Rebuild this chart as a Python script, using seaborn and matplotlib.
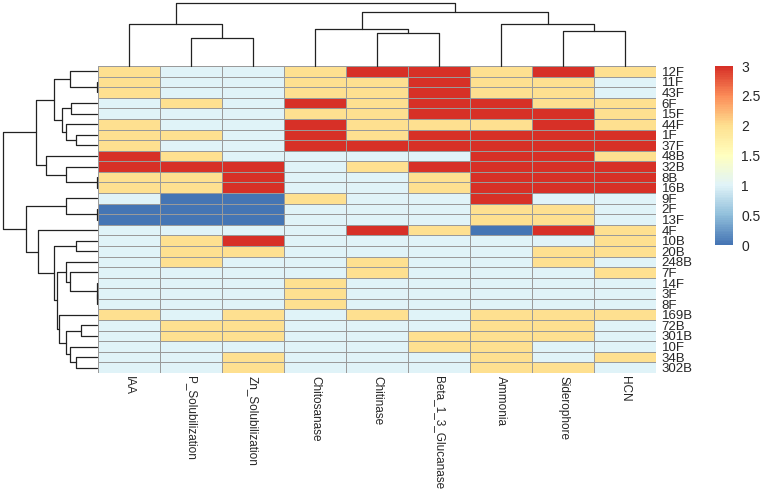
import pandas as pd
import matplotlib
matplotlib.use('Agg')
import matplotlib.pyplot as plt
from matplotlib.colors import LinearSegmentedColormap
import seaborn as sns

# Strains (row order as in the clustered heatmap)
strains = ['12F', '11F', '43F', '6F', '15F', '44F', '1F', '37F', '48B', '32B',
           '8B', '16B', '9F', '2F', '13F', '4F', '10B', '20B', '248B', '7F',
           '14F', '3F', '8F', '169B', '72B', '301B', '10F', '34B', '302B']

# Trait scores (0-3) for each strain
iaa = [2, 2, 2, 1, 1, 2, 2, 2, 3, 3, 2, 2, 1, 0, 0, 1, 1, 1, 1, 1, 1, 1, 1, 2, 1, 1, 1, 1, 1]
p_sol = [1, 1, 1, 2, 1, 1, 2, 1, 2, 3, 2, 2, 0, 0, 0, 1, 2, 2, 2, 1, 1, 1, 1, 1, 2, 2, 1, 1, 1]
zn_sol = [1, 1, 1, 1, 1, 1, 1, 1, 1, 3, 3, 3, 0, 0, 0, 1, 3, 2, 1, 1, 1, 1, 1, 2, 2, 2, 1, 2, 2]
chitosanase = [2, 2, 2, 3, 2, 3, 3, 3, 1, 1, 1, 1, 2, 1, 1, 1, 1, 1, 1, 1, 2, 2, 2, 1, 1, 1, 1, 1, 1]
chitinase = [3, 2, 2, 2, 2, 2, 2, 3, 1, 2, 1, 1, 1, 1, 1, 3, 1, 1, 2, 2, 1, 1, 1, 2, 1, 1, 1, 1, 1]
glucanase = [3, 3, 3, 3, 3, 2, 3, 3, 1, 3, 2, 2, 1, 1, 1, 2, 1, 1, 1, 1, 1, 1, 1, 1, 1, 2, 2, 1, 1]
ammonia = [2, 2, 2, 3, 3, 2, 3, 3, 3, 3, 3, 3, 3, 2, 2, 0, 1, 1, 1, 1, 1, 1, 1, 2, 2, 2, 2, 2, 2]
siderophore = [3, 2, 2, 2, 3, 3, 3, 3, 3, 3, 3, 3, 1, 2, 2, 3, 1, 2, 2, 1, 1, 1, 1, 2, 2, 2, 1, 1, 2]
hcn = [2, 1, 1, 2, 2, 2, 3, 3, 2, 3, 3, 3, 1, 1, 1, 2, 2, 2, 1, 2, 1, 1, 1, 2, 1, 1, 1, 2, 1]

traits = ['IAA', 'P_Solubilization', 'Zn_Solubilization', 'Chitosanase', 'Chitinase',
          'Beta_1_3_Glucanase', 'Ammonia', 'Siderophore', 'HCN']

# Dendrogram merges as [left, right, height] (heights)
col_tree = [['IAA', ['P_Solubilization', 'Zn_Solubilization', 28.7], 42.7],
            [['Chitosanase', ['Chitinase', 'Beta_1_3_Glucanase', 33.4], 37.7],
             ['Ammonia', ['Siderophore', 'HCN', 35.0], 42.7], 55.0], 63.4]

row_tree = [
    [[['12F', ['11F', '43F', 0], 26.7],
      [['6F', '15F', 26.0], ['44F', ['1F', '37F', 21.3], 30.7], 34.7], 43.3],
     ['48B', ['32B', ['8B', '16B', 0], 30.7], 50.7], 61.3],
    [['9F', ['2F', '13F', 0], 30.7],
     ['4F', [['10B', '20B', 21.3],
             [['248B', ['7F', ['14F', ['3F', '8F', 0], 0], 26.7], 30.7],
              ['169B', [['72B', '301B', 15.7],
                        ['10F', ['34B', '302B', 21.3], 26.7], 30.7], 38.0], 40.5], 43.3], 59.0],
     71.3], 94.0]

df = pd.DataFrame({'IAA': iaa, 'P_Solubilization': p_sol, 'Zn_Solubilization': zn_sol,
                   'Chitosanase': chitosanase, 'Chitinase': chitinase,
                   'Beta_1_3_Glucanase': glucanase, 'Ammonia': ammonia,
                   'Siderophore': siderophore, 'HCN': hcn}, index=strains)[traits]

sns.set_style('white')
plt.rcParams['font.family'] = ['Liberation Sans', 'DejaVu Sans']

# pheatmap default palette (reversed RdYlBu)
cmap = LinearSegmentedColormap.from_list(
    'rdylbu', ['#4575B4', '#91BFDB', '#E0F3F8', '#FFFFBF', '#FEE090', '#FC8D59', '#D73027'], N=100)

W, H = 767, 494
fig = plt.figure(figsize=(W / 100, H / 100), dpi=100)
ax = fig.add_axes([98 / W, 1 - 373 / H, 558 / W, 307 / H])
cax = fig.add_axes([715 / W, 1 - 245 / H, 18 / W, 179 / H])
ax_top = fig.add_axes([98 / W, 1 - 66 / H, 558 / W, 66 / H])
ax_left = fig.add_axes([0, 1 - 373 / H, 97 / W, 307 / H])

sns.heatmap(df, ax=ax, cmap=cmap, vmin=0, vmax=3, linewidths=0.6, linecolor='#9a9a9a',
            cbar_ax=cax, cbar_kws={'ticks': [0, 0.5, 1, 1.5, 2, 2.5, 3]})

ax.yaxis.tick_right()
ax.set_yticks([i + 0.5 for i in range(len(strains))])
ax.set_yticklabels(strains, rotation=0, fontsize=9.5)
ax.set_xticks([i + 0.5 for i in range(len(traits))])
ax.set_xticklabels(traits, rotation=270, fontsize=8.5, va='top', ha='center')
ax.tick_params(length=0, pad=2)
ax.tick_params(axis='y', pad=4)
ax.set_xlabel('')
ax.set_ylabel('')

cbar = ax.collections[0].colorbar
cbar.outline.set_visible(False)
cax.tick_params(length=0, labelsize=10, pad=6)
cax.set_yticklabels(['0', '0.5', '1', '1.5', '2', '2.5', '3'])


def draw(node, axis, pos, vertical):
    if isinstance(node, str):
        return pos[node], 0
    left, right, h = node
    pl, hl = draw(left, axis, pos, vertical)
    pr, hr = draw(right, axis, pos, vertical)
    if vertical:
        axis.plot([pl, pl, pr, pr], [hl, h, h, hr], color='#222222', lw=0.9, clip_on=False)
    else:
        axis.plot([hl, h, h, hr], [pl, pl, pr, pr], color='#222222', lw=0.9, clip_on=False)
    return (pl + pr) / 2, h


draw(col_tree, ax_top, {t: i + 0.5 for i, t in enumerate(traits)}, True)
ax_top.set_xlim(0, len(traits))
ax_top.set_ylim(0, 66.7)
ax_top.axis('off')

draw(row_tree, ax_left, {s: i + 0.5 for i, s in enumerate(strains)}, False)
ax_left.set_ylim(len(strains), 0)
ax_left.set_xlim(97.3, 0)
ax_left.axis('off')

fig.savefig('out.png', dpi=100)
